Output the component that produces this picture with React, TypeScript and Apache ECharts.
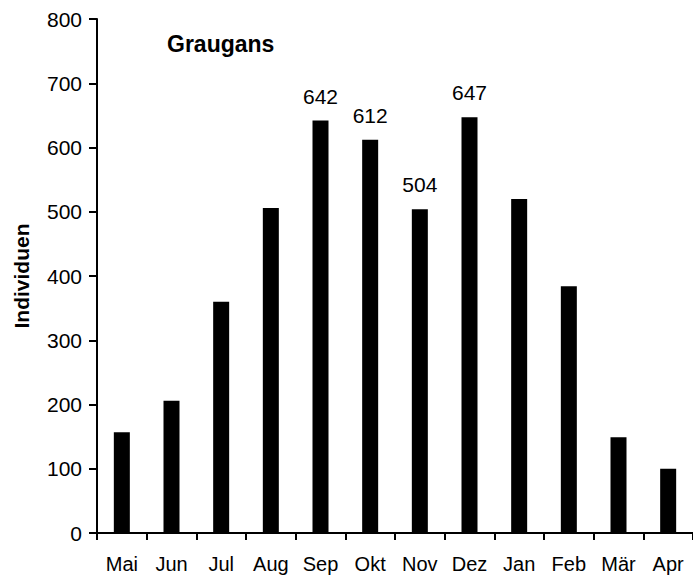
import React, { useEffect, useRef } from "react";
import * as echarts from "echarts";

const months = ["Mai", "Jun", "Jul", "Aug", "Sep", "Okt", "Nov", "Dez", "Jan", "Feb", "Mär", "Apr"];
const counts = [157, 206, 360, 506, 642, 612, 504, 647, 520, 384, 149, 100];
const labelledMonths = ["Sep", "Okt", "Nov", "Dez"];
const yTicks = [0, 100, 200, 300, 400, 500, 600, 700, 800];

const FONT = "'Liberation Sans', Arial, sans-serif";

export default function App() {
  const ref = useRef<HTMLDivElement>(null);
  useEffect(() => {
    if (!ref.current) return;
    const chart = echarts.init(ref.current, null, { renderer: "svg" });
    chart.setOption({
      animation: false,
      backgroundColor: "#ffffff",
      textStyle: { fontFamily: FONT },
      title: {
        text: "Graugans",
        left: 162,
        top: 27,
        textStyle: { fontFamily: FONT, fontWeight: "bold", fontSize: 23, color: "#000" },
      },
      grid: { left: 97, top: 19, bottom: 44, right: -5, containLabel: false },
      xAxis: {
        type: "category",
        data: months,
        boundaryGap: true,
        axisLine: { lineStyle: { color: "#000", width: 2 } },
        axisTick: { show: true, length: 7, lineStyle: { color: "#000", width: 2 }, alignWithLabel: false },
        axisLabel: { color: "#000", fontSize: 20, margin: 21, fontFamily: FONT, interval: 0 },
        splitLine: { show: false },
      },
      yAxis: {
        type: "value",
        min: yTicks[0],
        max: yTicks[yTicks.length - 1],
        interval: 100,
        name: "Individuen",
        nameLocation: "middle",
        nameGap: 65,
        nameRotate: 90,
        nameTextStyle: { fontFamily: FONT, fontWeight: "bold", fontSize: 21, color: "#000" },
        axisLine: { show: true, lineStyle: { color: "#000", width: 2 } },
        axisTick: { show: true, length: 8, lineStyle: { color: "#000", width: 2 } },
        axisLabel: { color: "#000", fontSize: 21, margin: 15, fontFamily: FONT },
        splitLine: { show: false },
      },
      series: [
        {
          type: "bar",
          data: counts.map((v, i) => ({
            value: v,
            label: {
              show: labelledMonths.includes(months[i]),
              position: "top",
              distance: 14,
              color: "#000",
              fontSize: 21,
              fontFamily: FONT,
            },
          })),
          barWidth: 16,
          itemStyle: { color: "#000" },
        },
      ],
    });
    return () => chart.dispose();
  }, []);
  return (
    <div
      ref={ref}
      style={{ position: "fixed", left: 0, top: 0, width: 693, height: 577, background: "#fff" }}
    />
  );
}
